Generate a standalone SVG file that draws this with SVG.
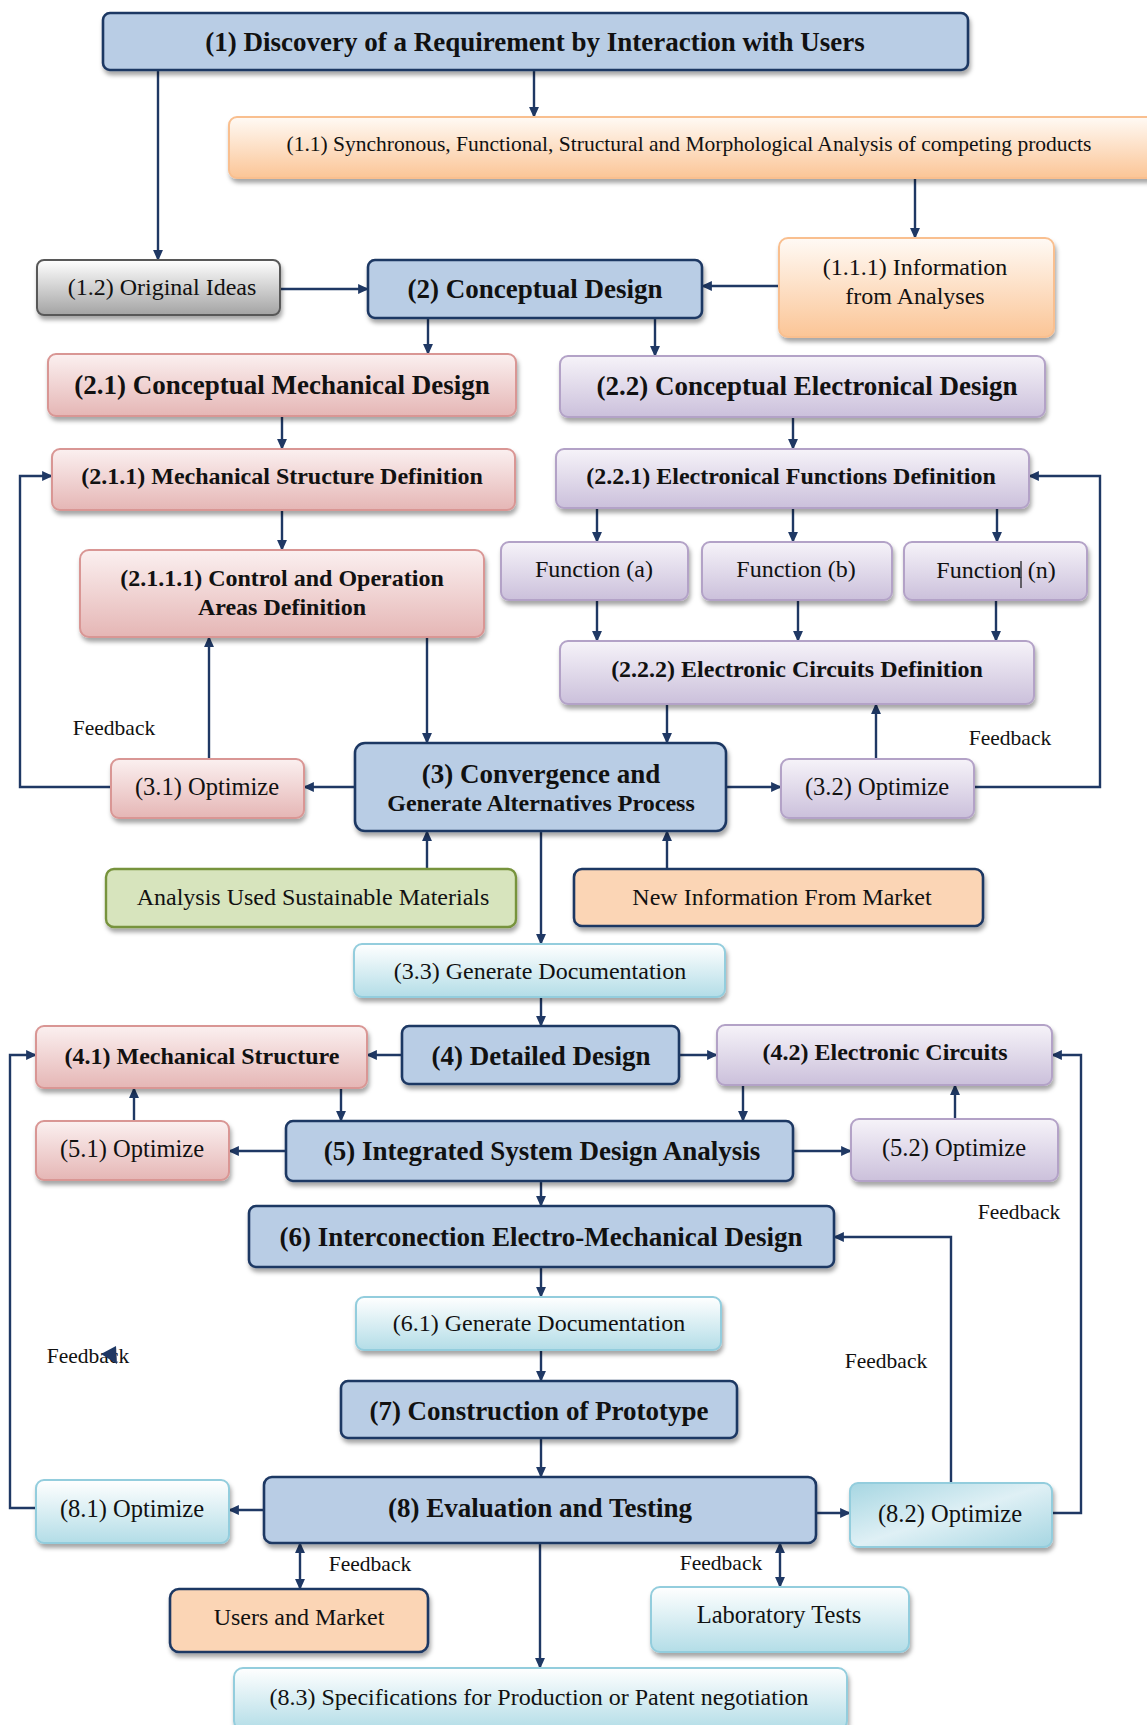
<svg xmlns="http://www.w3.org/2000/svg" width="1147" height="1725" viewBox="0 0 1147 1725">
  <style>
    text { font-family: "Liberation Serif", "Times New Roman", serif; fill: #111; text-anchor: middle; dominant-baseline: central; font-size: 24px; }
    .b { font-weight: bold; }
    .big { font-size: 27px; }
    .opt { font-size: 24.5px; }
    .sm { font-size: 21.5px; }
    .fb { font-size: 21.5px; }
    .box { filter: url(#shadow); }
    .blue { fill: #b9cde5; stroke: #1f3864; stroke-width: 2.6; }
    .orange { fill: url(#gOrange); stroke: #f9bf8f; stroke-width: 2; }
    .grey { fill: url(#gGrey); stroke: #595959; stroke-width: 2; }
    .red { fill: url(#gRed); stroke: #d99694; stroke-width: 2; }
    .purple { fill: url(#gPurple); stroke: #b3a2c7; stroke-width: 2; }
    .green { fill: #d7e4bd; stroke: #77933c; stroke-width: 2.4; }
    .peach { fill: #fbd5b5; stroke: #1f3864; stroke-width: 2.6; }
    .cyan { fill: url(#gCyan); stroke: #93cddd; stroke-width: 2; }
    .cyan2 { fill: url(#gCyan2); stroke: #93cddd; stroke-width: 2; }
    #connectors path { fill: none; stroke: #1f3864; stroke-width: 2.4; }
    .arr { marker-end: url(#ah); }
    .dbl { marker-start: url(#ah); marker-end: url(#ah); }
  </style>
  <defs>
    <filter id="shadow" x="-5%" y="-20%" width="115%" height="150%">
      <feDropShadow dx="1.5" dy="4" stdDeviation="2" flood-color="#000" flood-opacity="0.35"/>
    </filter>
    <linearGradient id="gOrange" x1="0" y1="0" x2="0" y2="1">
      <stop offset="0" stop-color="#fffaf5"/>
      <stop offset="1" stop-color="#fbc596"/>
    </linearGradient>
    <linearGradient id="gGrey" x1="0" y1="0" x2="0" y2="1">
      <stop offset="0" stop-color="#ffffff"/>
      <stop offset="1" stop-color="#a3a3a3"/>
    </linearGradient>
    <linearGradient id="gRed" x1="0" y1="0" x2="0" y2="1">
      <stop offset="0" stop-color="#fbf0f0"/>
      <stop offset="1" stop-color="#e5b6b5"/>
    </linearGradient>
    <linearGradient id="gPurple" x1="0" y1="0" x2="0" y2="1">
      <stop offset="0" stop-color="#f6f3f9"/>
      <stop offset="1" stop-color="#cbc0db"/>
    </linearGradient>
    <linearGradient id="gCyan" x1="0" y1="0" x2="0" y2="1">
      <stop offset="0" stop-color="#ffffff"/>
      <stop offset="1" stop-color="#b3dde7"/>
    </linearGradient>
    <linearGradient id="gCyan2" x1="0" y1="0" x2="1" y2="1">
      <stop offset="0" stop-color="#a6d6e2"/>
      <stop offset="0.5" stop-color="#dff0f5"/>
      <stop offset="1" stop-color="#a6d6e2"/>
    </linearGradient>
    <marker id="ah" viewBox="0 0 10 10" refX="9" refY="5" markerWidth="11" markerHeight="11" markerUnits="userSpaceOnUse" orient="auto-start-reverse">
      <path d="M0,0.5 L10,5 L0,9.5 z" fill="#1f3864"/>
    </marker>
  </defs>

  <!-- connectors -->
  <g id="connectors">
    <path class="arr" d="M158,70 V260"/>
    <path class="arr" d="M534,70 V117"/>
    <path class="arr" d="M915,178 V238"/>
    <path class="arr" d="M280,289 H368"/>
    <path class="arr" d="M779,286 H702"/>
    <path class="arr" d="M428,318 V354"/>
    <path class="arr" d="M655,318 V356"/>
    <path class="arr" d="M282,416 V449"/>
    <path class="arr" d="M793,417 V449"/>
    <path class="arr" d="M282,510 V550"/>
    <path class="arr" d="M597,508 V542"/>
    <path class="arr" d="M793,508 V542"/>
    <path class="arr" d="M997,508 V542"/>
    <path class="arr" d="M597,600 V641"/>
    <path class="arr" d="M798,600 V641"/>
    <path class="arr" d="M996,600 V641"/>
    <path class="arr" d="M427,637 V743"/>
    <path class="arr" d="M667,704 V743"/>
    <path class="arr" d="M209,759 V637"/>
    <path class="arr" d="M111,787 H20 V476 H52"/>
    <path class="arr" d="M355,787 H304"/>
    <path class="arr" d="M726,787 H781"/>
    <path class="arr" d="M876,759 V704"/>
    <path class="arr" d="M974,787 H1100 V476 H1029"/>
    <path class="arr" d="M427,869 V831"/>
    <path class="arr" d="M667,869 V831"/>
    <path class="arr" d="M541,831 V944"/>
    <path class="arr" d="M541,997 V1026"/>
    <path class="arr" d="M402,1055 H367"/>
    <path class="arr" d="M679,1055 H717"/>
    <path class="arr" d="M341,1088 V1121"/>
    <path class="arr" d="M134,1121 V1088"/>
    <path class="arr" d="M743,1085 V1121"/>
    <path class="arr" d="M955,1119 V1085"/>
    <path class="arr" d="M286,1151 H229"/>
    <path class="arr" d="M793,1151 H851"/>
    <path class="arr" d="M541,1181 V1206"/>
    <path class="arr" d="M541,1267 V1297"/>
    <path class="arr" d="M541,1350 V1381"/>
    <path class="arr" d="M541,1438 V1477"/>
    <path class="arr" d="M264,1510 H229"/>
    <path class="arr" d="M816,1513 H850"/>
    <path class="arr" d="M36,1508 H10 V1055 H36"/>
    <path class="arr" d="M1052,1513 H1081 V1055 H1052"/>
    <path class="arr" d="M951,1483 V1237 H834"/>
    <path class="dbl" d="M300,1543 V1589"/>
    <path class="dbl" d="M780,1543 V1587"/>
    <path class="arr" d="M540,1543 V1668"/>
  </g>

  <!-- feedback labels -->
  <g id="labels">
    <text class="fb" x="114" y="728">Feedback</text>
    <text class="fb" x="1010" y="738">Feedback</text>
    <text class="fb" x="1019" y="1212">Feedback</text>
    <text class="fb" x="88" y="1356">Feedback</text>
    <polygon points="101,1354 116,1346 117,1364" fill="#1f3864"/>
    <text class="fb" x="886" y="1361">Feedback</text>
    <text class="fb" x="370" y="1564">Feedback</text>
    <text class="fb" x="721" y="1563">Feedback</text>
  </g>

  <!-- nodes -->
  <g id="n1"><rect class="box blue" x="103" y="13" width="865" height="57" rx="7"/>
    <text class="b big" x="535" y="42">(1) Discovery of a Requirement by Interaction with Users</text></g>
  <g id="n1_1"><rect class="box orange" x="229" y="117" width="930" height="61" rx="8"/>
    <text class="sm" x="689" y="144">(1.1) Synchronous, Functional, Structural and Morphological Analysis of competing products</text></g>
  <g id="n1_2"><rect class="box grey" x="37" y="260" width="243" height="55" rx="7"/>
    <text x="162" y="287">(1.2) Original Ideas</text></g>
  <g id="n2"><rect class="box blue" x="368" y="260" width="334" height="58" rx="7"/>
    <text class="b big" x="535" y="289">(2) Conceptual Design</text></g>
  <g id="n1_1_1"><rect class="box orange" x="779" y="238" width="275" height="99" rx="9"/>
    <text x="915" y="267">(1.1.1) Information</text>
    <text x="915" y="296">from Analyses</text></g>
  <g id="n2_1"><rect class="box red" x="48" y="354" width="468" height="62" rx="8"/>
    <text class="b big" x="282" y="385">(2.1) Conceptual Mechanical Design</text></g>
  <g id="n2_2"><rect class="box purple" x="560" y="356" width="485" height="61" rx="8"/>
    <text class="b big" x="807" y="386">(2.2) Conceptual Electronical Design</text></g>
  <g id="n2_1_1"><rect class="box red" x="52" y="449" width="463" height="61" rx="8"/>
    <text class="b" x="282" y="476">(2.1.1) Mechanical Structure Definition</text></g>
  <g id="n2_2_1"><rect class="box purple" x="556" y="449" width="473" height="59" rx="8"/>
    <text class="b" x="791" y="476">(2.2.1) Electronical Functions Definition</text></g>
  <g id="n2_1_1_1"><rect class="box red" x="80" y="550" width="404" height="87" rx="9"/>
    <text class="b" x="282" y="578">(2.1.1.1) Control and Operation</text>
    <text class="b" x="282" y="607">Areas Definition</text></g>
  <g id="nFa"><rect class="box purple" x="501" y="542" width="187" height="58" rx="8"/>
    <text x="594" y="569">Function (a)</text></g>
  <g id="nFb"><rect class="box purple" x="702" y="542" width="190" height="58" rx="8"/>
    <text x="796" y="569">Function (b)</text></g>
  <g id="nFn"><rect class="box purple" x="904" y="542" width="183" height="58" rx="8"/>
    <text x="996" y="570">Function (n)</text>
    <line x1="1021" y1="561" x2="1021" y2="588" stroke="#222" stroke-width="1.3"/></g>
  <g id="n2_2_2"><rect class="box purple" x="560" y="641" width="474" height="63" rx="8"/>
    <text class="b" x="797" y="669">(2.2.2) Electronic Circuits Definition</text></g>
  <g id="n3_1"><rect class="box red" x="111" y="759" width="193" height="59" rx="8"/>
    <text class="opt" x="207" y="786">(3.1) Optimize</text></g>
  <g id="n3"><rect class="box blue" x="355" y="743" width="371" height="88" rx="10"/>
    <text class="b big" x="541" y="774">(3) Convergence and</text>
    <text class="b" x="541" y="803">Generate Alternatives Process</text></g>
  <g id="n3_2"><rect class="box purple" x="781" y="759" width="193" height="59" rx="8"/>
    <text class="opt" x="877" y="786">(3.2) Optimize</text></g>
  <g id="nMat"><rect class="box green" x="106" y="869" width="410" height="58" rx="8"/>
    <text x="313" y="897">Analysis Used Sustainable Materials</text></g>
  <g id="nMarket"><rect class="box peach" x="574" y="869" width="409" height="57" rx="8"/>
    <text x="782" y="897">New Information From Market</text></g>
  <g id="n3_3"><rect class="box cyan" x="354" y="944" width="371" height="53" rx="8"/>
    <text x="540" y="971">(3.3) Generate Documentation</text></g>
  <g id="n4_1"><rect class="box red" x="36" y="1026" width="331" height="62" rx="8"/>
    <text class="b" x="202" y="1056">(4.1) Mechanical Structure</text></g>
  <g id="n4"><rect class="box blue" x="402" y="1026" width="277" height="58" rx="7"/>
    <text class="b big" x="541" y="1056">(4) Detailed Design</text></g>
  <g id="n4_2"><rect class="box purple" x="717" y="1025" width="335" height="60" rx="8"/>
    <text class="b" x="885" y="1052">(4.2) Electronic Circuits</text></g>
  <g id="n5_1"><rect class="box red" x="36" y="1121" width="193" height="59" rx="8"/>
    <text class="opt" x="132" y="1148">(5.1) Optimize</text></g>
  <g id="n5"><rect class="box blue" x="286" y="1121" width="507" height="60" rx="7"/>
    <text class="b big" x="542" y="1151">(5) Integrated System Design Analysis</text></g>
  <g id="n5_2"><rect class="box purple" x="851" y="1119" width="207" height="62" rx="8"/>
    <text class="opt" x="954" y="1147">(5.2) Optimize</text></g>
  <g id="n6"><rect class="box blue" x="249" y="1206" width="585" height="61" rx="7"/>
    <text class="b big" x="541" y="1237">(6) Interconection Electro-Mechanical Design</text></g>
  <g id="n6_1"><rect class="box cyan" x="356" y="1297" width="365" height="53" rx="8"/>
    <text x="539" y="1323">(6.1) Generate Documentation</text></g>
  <g id="n7"><rect class="box blue" x="341" y="1381" width="396" height="57" rx="7"/>
    <text class="b big" x="539" y="1411">(7) Construction of Prototype</text></g>
  <g id="n8_1"><rect class="box cyan" x="36" y="1480" width="193" height="63" rx="8"/>
    <text class="opt" x="132" y="1508">(8.1) Optimize</text></g>
  <g id="n8"><rect class="box blue" x="264" y="1477" width="552" height="66" rx="8"/>
    <text class="b big" x="540" y="1508">(8) Evaluation and Testing</text></g>
  <g id="n8_2"><rect class="box cyan2" x="850" y="1483" width="202" height="64" rx="8"/>
    <text class="opt" x="950" y="1513">(8.2) Optimize</text></g>
  <g id="nUsers"><rect class="box peach" x="170" y="1589" width="258" height="63" rx="9"/>
    <text x="299" y="1617">Users and Market</text></g>
  <g id="nLab"><rect class="box cyan" x="651" y="1587" width="258" height="65" rx="9"/>
    <text class="opt" x="779" y="1614">Laboratory Tests</text></g>
  <g id="n8_3"><rect class="box cyan" x="234" y="1668" width="613" height="62" rx="9"/>
    <text x="539" y="1697">(8.3) Specifications for Production or Patent negotiation</text></g>
</svg>
